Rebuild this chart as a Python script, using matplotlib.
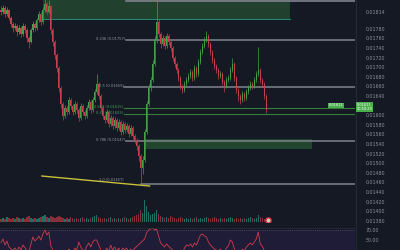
import matplotlib
matplotlib.use('Agg')
import matplotlib.pyplot as plt
from matplotlib.lines import Line2D

# candle data (one candle per slot)
closes = [0.01815, 0.01823, 0.01811, 0.01819, 0.01803, 0.01790, 0.01782, 0.01786, 0.01773, 0.01782,
          0.01769, 0.01786, 0.01778, 0.01761, 0.01753, 0.01778, 0.01790, 0.01782, 0.01798, 0.01811,
          0.01794, 0.01819, 0.01832, 0.01815, 0.01828, 0.01778, 0.01753, 0.01725, 0.01698, 0.01657,
          0.01623, 0.01598, 0.01615, 0.01607, 0.01632, 0.01619, 0.01607, 0.01623, 0.01611, 0.01594,
          0.01619, 0.01607, 0.01598, 0.01615, 0.01628, 0.01611, 0.01632, 0.01648, 0.01665, 0.01640,
          0.01615, 0.01598, 0.01590, 0.01607, 0.01582, 0.01594, 0.01578, 0.01590, 0.01573, 0.01586,
          0.01565, 0.01582, 0.01569, 0.01578, 0.01561, 0.01573, 0.01557, 0.01548, 0.01536, 0.01515,
          0.01490, 0.01507, 0.01565, 0.01623, 0.01657, 0.01673, 0.01707, 0.01757, 0.01794, 0.01769,
          0.01748, 0.01761, 0.01744, 0.01765, 0.01753, 0.01740, 0.01719, 0.01707, 0.01694, 0.01678,
          0.01661, 0.01653, 0.01665, 0.01673, 0.01682, 0.01690, 0.01678, 0.01698, 0.01686, 0.01711,
          0.01732, 0.01744, 0.01757, 0.01765, 0.01748, 0.01732, 0.01715, 0.01703, 0.01694, 0.01682,
          0.01686, 0.01669, 0.01661, 0.01673, 0.01678, 0.01694, 0.01707, 0.01678, 0.01653, 0.01640,
          0.01632, 0.01644, 0.01636, 0.01648, 0.01657, 0.01665, 0.01661, 0.01673, 0.01686, 0.01694,
          0.01673, 0.01665, 0.01640, 0.01611]
first_open = 0.01820
highs = [0.01828, 0.01830, 0.01827, 0.01825, 0.01822, 0.01807, 0.01794, 0.01792, 0.01789, 0.01788,
         0.01785, 0.01792, 0.01790, 0.01781, 0.01765, 0.01782, 0.01796, 0.01794, 0.01803, 0.01817,
         0.01815, 0.01826, 0.01842, 0.01836, 0.01840, 0.01830, 0.01782, 0.01757, 0.01729, 0.01702,
         0.01661, 0.01628, 0.01621, 0.01619, 0.01638, 0.01636, 0.01623, 0.01629, 0.01627, 0.01615,
         0.01625, 0.01623, 0.01611, 0.01621, 0.01634, 0.01632, 0.01638, 0.01655, 0.01686, 0.01669,
         0.01644, 0.01619, 0.01602, 0.01613, 0.01611, 0.01600, 0.01598, 0.01596, 0.01594, 0.01592,
         0.01590, 0.01588, 0.01586, 0.01584, 0.01582, 0.01579, 0.01577, 0.01561, 0.01552, 0.01540,
         0.01519, 0.01515, 0.01571, 0.01630, 0.01665, 0.01680, 0.01715, 0.01765, 0.01842, 0.01800,
         0.01773, 0.01767, 0.01765, 0.01771, 0.01769, 0.01757, 0.01744, 0.01723, 0.01711, 0.01698,
         0.01682, 0.01665, 0.01671, 0.01679, 0.01688, 0.01696, 0.01694, 0.01704, 0.01702, 0.01717,
         0.01738, 0.01750, 0.01763, 0.01775, 0.01769, 0.01752, 0.01736, 0.01719, 0.01707, 0.01698,
         0.01692, 0.01690, 0.01673, 0.01679, 0.01684, 0.01700, 0.01719, 0.01711, 0.01682, 0.01657,
         0.01644, 0.01650, 0.01648, 0.01654, 0.01663, 0.01671, 0.01669, 0.01679, 0.01692, 0.01742,
         0.01698, 0.01677, 0.01669, 0.01644]
lows = [0.01808, 0.01810, 0.01805, 0.01806, 0.01798, 0.01784, 0.01774, 0.01778, 0.01766, 0.01770,
        0.01762, 0.01765, 0.01772, 0.01752, 0.01740, 0.01750, 0.01774, 0.01776, 0.01778, 0.01794,
        0.01788, 0.01790, 0.01815, 0.01810, 0.01812, 0.01770, 0.01745, 0.01718, 0.01690, 0.01648,
        0.01615, 0.01590, 0.01594, 0.01600, 0.01603, 0.01613, 0.01600, 0.01603, 0.01605, 0.01588,
        0.01590, 0.01601, 0.01592, 0.01594, 0.01611, 0.01605, 0.01607, 0.01628, 0.01644, 0.01634,
        0.01609, 0.01592, 0.01584, 0.01586, 0.01576, 0.01578, 0.01571, 0.01573, 0.01567, 0.01569,
        0.01559, 0.01561, 0.01563, 0.01565, 0.01555, 0.01557, 0.01550, 0.01542, 0.01528, 0.01505,
        0.01457, 0.01478, 0.01503, 0.01561, 0.01619, 0.01650, 0.01669, 0.01702, 0.01750, 0.01763,
        0.01740, 0.01744, 0.01738, 0.01740, 0.01747, 0.01734, 0.01713, 0.01700, 0.01688, 0.01671,
        0.01655, 0.01646, 0.01648, 0.01661, 0.01669, 0.01678, 0.01672, 0.01674, 0.01680, 0.01682,
        0.01707, 0.01728, 0.01740, 0.01753, 0.01742, 0.01726, 0.01709, 0.01696, 0.01688, 0.01676,
        0.01678, 0.01663, 0.01648, 0.01657, 0.01669, 0.01674, 0.01690, 0.01672, 0.01646, 0.01630,
        0.01623, 0.01628, 0.01630, 0.01632, 0.01644, 0.01653, 0.01655, 0.01657, 0.01669, 0.01682,
        0.01667, 0.01659, 0.01634, 0.01605]
volumes = [3, 4, 3, 5, 4, 3, 4, 3, 5, 4,
           3, 4, 3, 5, 6, 4, 3, 4, 3, 4,
           5, 6, 7, 5, 4, 6, 5, 4, 5, 6,
           5, 4, 3, 4, 3, 5, 4, 3, 4, 3,
           4, 5, 3, 4, 3, 4, 5, 6, 7, 5,
           4, 3, 4, 3, 4, 5, 3, 4, 3, 4,
           3, 4, 5, 4, 3, 4, 5, 6, 7, 8,
           12, 9, 22, 16, 10, 7, 8, 9, 12, 8,
           6, 5, 4, 5, 4, 6, 5, 4, 3, 4,
           5, 4, 3, 4, 3, 4, 3, 4, 5, 3,
           4, 3, 4, 5, 4, 3, 4, 5, 4, 3,
           4, 3, 4, 3, 4, 5, 4, 3, 4, 3,
           4, 3, 4, 3, 4, 5, 4, 3, 4, 7,
           5, 4, 3, 4]
rsi = [45, 52, 40, 48, 36, 32, 30, 34, 28, 36,
       30, 40, 35, 28, 26, 42, 56, 48, 52, 58,
       50, 62, 70, 60, 66, 38, 30, 24, 20, 16,
       14, 12, 24, 22, 32, 28, 24, 34, 30, 46,
       36, 30, 28, 38, 44, 36, 46, 50, 50, 40,
       30, 26, 24, 34, 26, 40, 30, 36, 28, 34,
       26, 34, 30, 34, 26, 32, 26, 24, 22, 18,
       16, 28, 52, 64, 70, 72, 74, 70, 72, 58,
       44, 40, 36, 42, 38, 34, 30, 28, 26, 24,
       22, 24, 34, 40, 38, 42, 36, 44, 40, 50,
       60, 62, 58, 56, 46, 40, 36, 32, 30, 28,
       32, 26, 24, 34, 38, 50, 46, 32, 26, 24,
       22, 32, 28, 36, 40, 44, 40, 46, 52, 66,
       42, 38, 28, 22]

# the 0.01620 level sits under the last-price tag, so it gets no label
price_ticks = [0.01380, 0.01400, 0.01420, 0.01440, 0.01460, 0.01480, 0.01500, 0.01520, 0.01540,
               0.01560, 0.01580, 0.01600, 0.01640, 0.01660, 0.01680, 0.01700, 0.01720,
               0.01740, 0.01760, 0.01780, 0.01814]
fib_names = ['0.236', '0.5', '0.618', '0.65', '0.786', '1.0']
fib_prices = [0.017567, 0.016588, 0.016150, 0.016025, 0.015473, 0.014567]
fib_start = [62.5, 61.5, 61.5, 61.5, 62.5, 70]
fib_label_end = [62, 61.5, 61, 61, 62, 61.5]
fib_green = [False, False, True, True, False, False]

bg = '#151924'
green = '#43a047'
red = '#c6404f'
grey = '#80838d'

fig = plt.figure(figsize=(4, 2.5), dpi=100, facecolor=bg)
ax = fig.add_axes([0, 24 / 250, 355 / 400, 226 / 250], facecolor=bg)
ax.set_xlim(-0.5, 177.5)
ax.set_ylim(0.013692, 0.01840)

opens = [first_open] + closes[:-1]
x = list(range(len(closes)))
cols = [green if c >= o else red for o, c in zip(opens, closes)]
ax.vlines(x, lows, highs, colors=cols, lw=0.5, zorder=3)
ax.bar(x, [c - o for o, c in zip(opens, closes)], bottom=opens, width=0.6, color=cols, zorder=3)

# zones
ax.fill_between([21, 145], 0.018004, 0.01840, color='#2b6338', alpha=0.55, lw=0, zorder=1)
ax.plot([21, 145], [0.018004, 0.018004], color='#2a8a7a', lw=0.7, zorder=2)
ax.plot([62.5, 177.5], [0.01838, 0.01838], color=grey, lw=1.2, zorder=2)
ax.fill_between([71.5, 156], 0.015296, 0.015504, color='#2b6338', alpha=0.6, lw=0, zorder=1)

# fib levels
for name, p, s, e, g in zip(fib_names, fib_prices, fib_start, fib_label_end, fib_green):
    c = '#367d3a' if g else grey
    ax.plot([s, 177.5], [p, p], color=c, lw=0.8 if g else 1.1, zorder=2)
    dy = 0.00008 if name == '1.0' else 0.00002
    ax.text(e, p + dy, '%s (%.5f)' % (name, p), color=('#4f9a53' if g else '#9598a1'),
            fontsize=2.6, ha='right', va='center', zorder=4)

# trend line
ax.plot([20.5, 74.5], [0.014733, 0.014525], color='#c9c13a', lw=1.0, zorder=4)

ax.set_yticks(price_ticks)
ax.set_yticklabels(['%.5f' % t for t in price_ticks])
ax.tick_params(axis='y', labelright=True, labelleft=False, right=False, left=False,
               labelsize=3.4, labelcolor='#8a8f9c', pad=4)
ax.set_xticks([])
for s in ax.spines.values():
    s.set_visible(False)

# volume
vax = fig.add_axes([0, 28 / 250, 355 / 400, 30 / 250])
vax.patch.set_alpha(0)
vax.set_xlim(-0.5, 177.5)
vax.set_ylim(0, 30)
vcols = ['#1f6f66' if c >= o else '#8a2f3a' for o, c in zip(opens, closes)]
vax.bar(x, volumes, width=0.7, color=vcols)
vax.scatter([134], [2], s=14, facecolor='#b9e0b0', edgecolor='#d03a4a', lw=1.0, zorder=5)
vax.axis('off')

# rsi panel
rax = fig.add_axes([0, 0, 355 / 400, 22 / 250], facecolor=bg)
rax.set_xlim(-0.5, 177.5)
rax.set_ylim(30, 74)
rax.axhspan(30, 70, color='#1e1c36', lw=0)
rax.axhline(70, color='#555070', lw=0.6, ls=(0, (1, 1.5)))
rax.plot(x, rsi, color='#d23c4c', lw=0.6)
rax.set_yticks([70, 50])
rax.set_yticklabels(['70.00', '50.00'])
rax.tick_params(axis='y', labelright=True, labelleft=False, right=False, left=False,
                labelsize=3.4, labelcolor='#8a8f9c', pad=4)
rax.set_xticks([])
for s in rax.spines.values():
    s.set_visible(False)

# separators and last price tags
fig.add_artist(Line2D([355.5 / 400, 355.5 / 400], [0, 1], color='#2a2e39', lw=0.6))
fig.add_artist(Line2D([0, 355 / 400], [22 / 250, 22 / 250], color='#2a2e39', lw=0.5))
last = closes[-1]
fig.text(357 / 400, 1 - 107 / 250, '%.5f\n00:59:29' % last, color='white', fontsize=2.5,
         va='center', ha='left', linespacing=1.0,
         bbox=dict(boxstyle='square,pad=0.2', fc='#4caf50', ec='none'))
fig.text(329 / 400, 1 - 105.5 / 250, '%.5f' % last, color='white', fontsize=2.5,
         va='center', ha='left',
         bbox=dict(boxstyle='square,pad=0.25', fc='#4caf50', ec='none'))

plt.savefig('out.png', dpi=100, facecolor=bg)
